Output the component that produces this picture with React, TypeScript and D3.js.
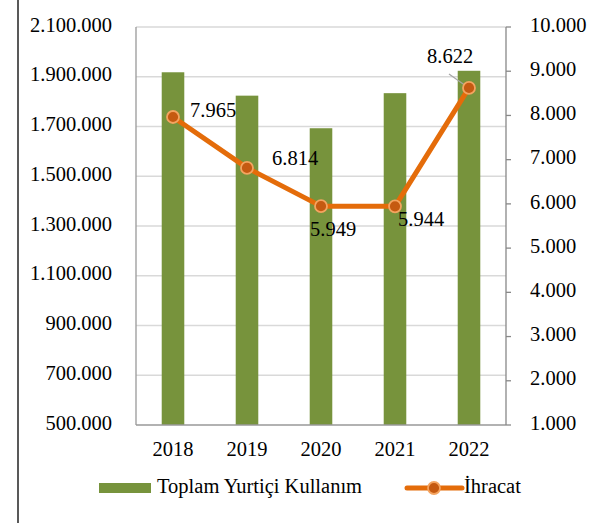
import * as d3 from "d3";

const years = ["2018", "2019", "2020", "2021", "2022"];
const domesticUse = [1918000, 1824000, 1693000, 1834000, 1924000];
const exports = [7965, 6814, 5949, 5944, 8622];
const leftTicks = [500000, 700000, 900000, 1100000, 1300000, 1500000, 1700000, 1900000, 2100000];
const rightTicks = [1000, 2000, 3000, 4000, 5000, 6000, 7000, 8000, 9000, 10000];

// label placement relative to each marker (anchor start, middle baseline)
const labelOffsets = [
  { dx: 17, dy: -5 },
  { dx: 25, dy: -8 },
  { dx: -11, dy: 25 },
  { dx: 3, dy: 15 },
  { dx: -42, dy: -30 },
];

const fmt = (v: number) => d3.format(",")(v).replace(/,/g, ".");

const W = 596;
const H = 523;
const plot = { left: 136, right: 506, top: 27, bottom: 425 };
const FF = "'Times New Roman', 'Liberation Serif', Tinos, serif";
const FS = 20.5;

export default function App() {
  const x = d3
    .scaleBand()
    .domain(years)
    .range([plot.left, plot.right])
    .paddingInner(0.695)
    .paddingOuter(0.3475);
  const yLeft = d3.scaleLinear().domain([500000, 2100000]).range([plot.bottom, plot.top]);
  const yRight = d3.scaleLinear().domain([1000, 10000]).range([plot.bottom, plot.top]);

  const pts = years.map((yr, i) => ({
    x: (x(yr) as number) + x.bandwidth() / 2,
    y: yRight(exports[i]),
    v: exports[i],
  }));

  const line = d3
    .line<{ x: number; y: number }>()
    .x((d) => d.x)
    .y((d) => d.y);

  return (
    <svg
      width={W}
      height={H}
      style={{ position: "absolute", left: 0, top: 0, background: "#fff", fontFamily: FF }}
    >
      {/* frame edge */}
      <line x1={18} x2={18} y1={0} y2={H} stroke="#222" strokeWidth={1.5} />

      {/* gridlines */}
      {leftTicks.slice(1).map((t) => (
        <line
          key={t}
          x1={plot.left}
          x2={plot.right}
          y1={yLeft(t)}
          y2={yLeft(t)}
          stroke="#d9d9d9"
          strokeWidth={1.3}
        />
      ))}

      {/* bars */}
      {years.map((yr, i) => (
        <rect
          key={yr}
          x={x(yr)}
          y={yLeft(domesticUse[i])}
          width={x.bandwidth()}
          height={plot.bottom - yLeft(domesticUse[i])}
          fill="#77933c"
        />
      ))}

      {/* axes */}
      <line x1={plot.left} x2={plot.left} y1={plot.top} y2={plot.bottom} stroke="#999" strokeWidth={1.3} />
      <line x1={plot.left} x2={plot.right} y1={plot.bottom} y2={plot.bottom} stroke="#999" strokeWidth={1.3} />
      <line x1={plot.right} x2={plot.right} y1={plot.top} y2={plot.bottom} stroke="#888" strokeWidth={1.3} />
      {rightTicks.map((t) => (
        <g key={t}>
          <line x1={plot.right} x2={plot.right + 5} y1={yRight(t)} y2={yRight(t)} stroke="#888" strokeWidth={1.3} />
          <text x={530} y={yRight(t)} dominantBaseline="middle" style={{ fontFamily: FF }} fontSize={FS} fill="#000">
            {fmt(t)}
          </text>
        </g>
      ))}
      {leftTicks.map((t) => (
        <text key={t} x={112} y={yLeft(t)} textAnchor="end" dominantBaseline="middle" style={{ fontFamily: FF }} fontSize={FS} fill="#000">
          {fmt(t)}
        </text>
      ))}
      {years.map((yr) => (
        <text
          key={yr}
          x={(x(yr) as number) + x.bandwidth() / 2}
          y={451}
          textAnchor="middle"
          dominantBaseline="middle"
          style={{ fontFamily: FF }}
          fontSize={FS}
          fill="#000"
        >
          {yr}
        </text>
      ))}

      {/* export line */}
      <path d={line(pts) || ""} fill="none" stroke="#e46c0a" strokeWidth={5} strokeLinejoin="round" />
      <line x1={449} x2={466} y1={74} y2={86} stroke="#a6a6a6" strokeWidth={1.2} />
      {pts.map((p, i) => (
        <g key={i}>
          <circle cx={p.x} cy={p.y} r={6} fill="#c55a11" stroke="#f4a460" strokeWidth={1.8} />
          <text
            x={p.x + labelOffsets[i].dx}
            y={p.y + labelOffsets[i].dy}
            dominantBaseline="middle"
            style={{ fontFamily: FF }}
            fontSize={FS}
            fill="#000"
          >
            {fmt(p.v)}
          </text>
        </g>
      ))}

      {/* legend */}
      <rect x={99} y={483} width={52} height={10} fill="#77933c" />
      <text x={157} y={488} dominantBaseline="middle" style={{ fontFamily: FF }} fontSize={FS} fill="#000">
        Toplam Yurtiçi Kullanım
      </text>
      <line x1={407} x2={462} y1={488} y2={488} stroke="#e46c0a" strokeWidth={5} strokeLinecap="round" />
      <circle cx={434} cy={488} r={6} fill="#c55a11" stroke="#f4a460" strokeWidth={1.8} />
      <text x={464} y={488} dominantBaseline="middle" style={{ fontFamily: FF }} fontSize={FS} fill="#000">
        İhracat
      </text>
    </svg>
  );
}
